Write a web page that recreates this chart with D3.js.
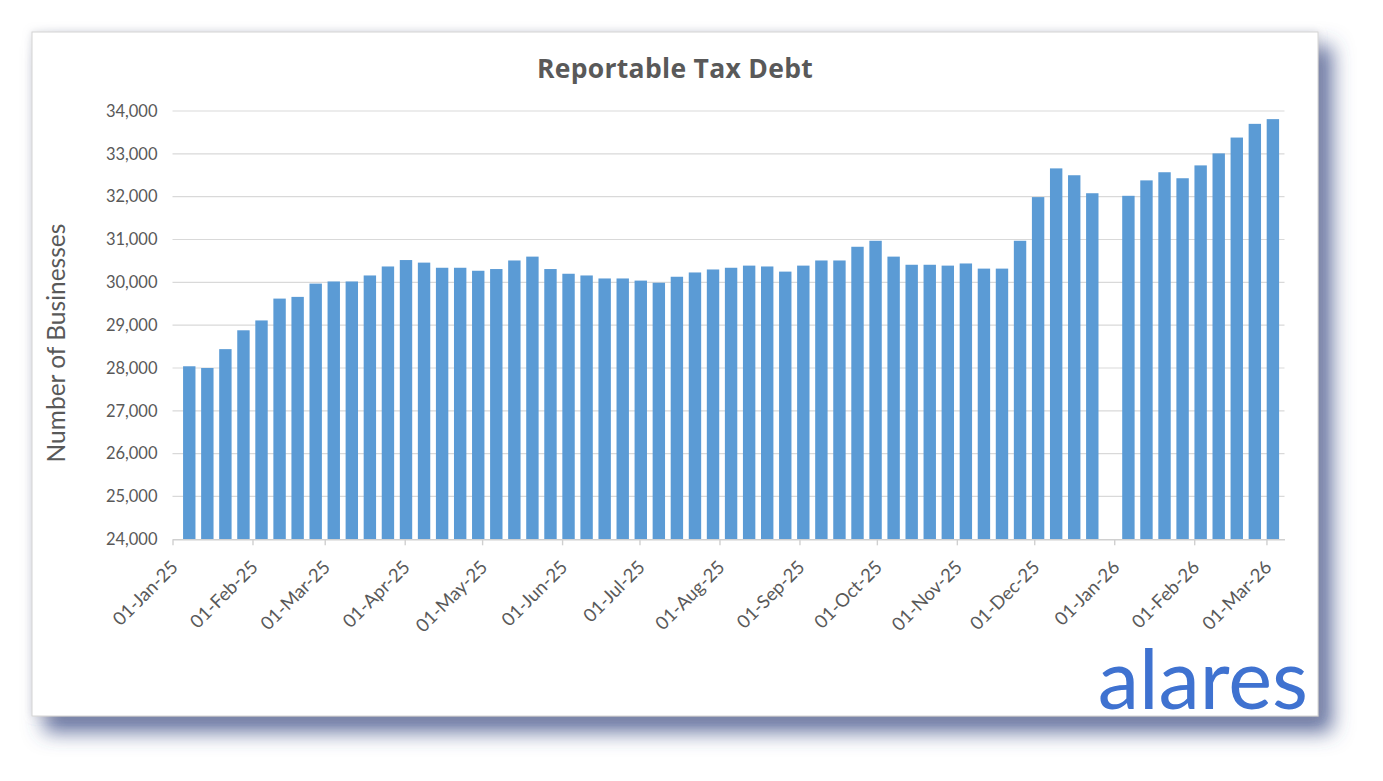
<!doctype html>
<html>
<head>
<meta charset="utf-8">
<title>Reportable Tax Debt</title>
<script src="https://cdn.jsdelivr.net/npm/d3@7"></script>
<style>
  body{margin:0;padding:0;background:#fff;}
  svg{display:block;}
</style>
</head>
<body>
<script>
// weekly snapshot dates (Tuesdays)
var weeks = [
  "2025-01-07","2025-01-14","2025-01-21","2025-01-28",
  "2025-02-04","2025-02-11","2025-02-18","2025-02-25",
  "2025-03-04","2025-03-11","2025-03-18","2025-03-25",
  "2025-04-01","2025-04-08","2025-04-15","2025-04-22","2025-04-29",
  "2025-05-06","2025-05-13","2025-05-20","2025-05-27",
  "2025-06-03","2025-06-10","2025-06-17","2025-06-24",
  "2025-07-01","2025-07-08","2025-07-15","2025-07-22","2025-07-29",
  "2025-08-05","2025-08-12","2025-08-19","2025-08-26",
  "2025-09-02","2025-09-09","2025-09-16","2025-09-23","2025-09-30",
  "2025-10-07","2025-10-14","2025-10-21","2025-10-28",
  "2025-11-04","2025-11-11","2025-11-18","2025-11-25",
  "2025-12-02","2025-12-09","2025-12-16","2025-12-23","2025-12-30",
  "2026-01-06","2026-01-13","2026-01-20","2026-01-27",
  "2026-02-03","2026-02-10","2026-02-17","2026-02-24",
  "2026-03-03"
];
// number of businesses, null = no reading that week
var businesses = [
  28040, 28000, 28440, 28880,
  29110, 29620, 29660, 29970,
  30020, 30020, 30160, 30370,
  30520, 30460, 30340, 30340, 30270,
  30310, 30510, 30600, 30310,
  30200, 30160, 30090, 30090,
  30040, 29990, 30130, 30230, 30300,
  30340, 30390, 30370, 30250,
  30390, 30510, 30510, 30830, 30970,
  30600, 30410, 30410, 30390,
  30440, 30320, 30320, 30970,
  31990, 32660, 32500, 32080, null,
  32020, 32380, 32570, 32430,
  32730, 33010, 33380, 33700,
  33810
];
var yTicks = [24000, 25000, 26000, 27000, 28000, 29000, 30000, 31000, 32000, 33000, 34000];
var xStart = "2025-01-01", xEnd = "2026-03-08";

var W = 1383, H = 781;
var plot = {left: 172.5, right: 1284.5, top: 111, bottom: 539.3};
var parse = d3.timeParse("%Y-%m-%d");

var svg = d3.select("body").append("svg").attr("width", W).attr("height", H)
  .attr("font-family", "Lato, 'Open Sans', sans-serif");

// panel with shadow
var defs = svg.append("defs");
var f = defs.append("filter").attr("id","shadow").attr("x","-10%").attr("y","-10%").attr("width","125%").attr("height","130%");
f.append("feDropShadow").attr("dx",0).attr("dy",0).attr("stdDeviation",4).attr("flood-color","#9aa0b0").attr("flood-opacity",0.35).attr("result","a");
f.append("feDropShadow").attr("in","a").attr("dx",13).attr("dy",15).attr("stdDeviation",10).attr("flood-color","#3f4f88").attr("flood-opacity",0.8);

svg.append("rect").attr("x",32).attr("y",32).attr("width",1286).attr("height",684)
  .attr("fill","#fff").attr("stroke","#d4d4d4").attr("filter","url(#shadow)");

var x = d3.scaleTime().domain([parse(xStart), parse(xEnd)]).range([plot.left, plot.right]);
var y = d3.scaleLinear().domain([yTicks[0], yTicks[yTicks.length-1]]).range([plot.bottom, plot.top]);
var dayW = x(parse("2025-01-02")) - x(parse("2025-01-01"));

// gridlines
svg.append("g").selectAll("line").data(yTicks.slice(1)).enter().append("line")
  .attr("x1", plot.left).attr("x2", plot.right)
  .attr("y1", function(d){ return y(d); }).attr("y2", function(d){ return y(d); })
  .attr("stroke","#d9d9d9").attr("stroke-width",1.2);

// y tick labels
svg.append("g").selectAll("text").data(yTicks).enter().append("text")
  .attr("x", plot.left - 15).attr("y", function(d){ return y(d); })
  .attr("dy","0.35em").attr("text-anchor","end")
  .attr("font-size",16.5).attr("fill","#595959")
  .text(d3.format(",")) ;

// bars
var data = weeks.map(function(w,i){ return {date: parse(w), v: businesses[i]}; }).filter(function(d){ return d.v !== null; });
var barW = 12.4;
svg.append("g").selectAll("rect").data(data).enter().append("rect")
  .attr("x", function(d){ return x(d.date) + dayW/2 - barW/2; })
  .attr("width", barW)
  .attr("y", function(d){ return y(d.v); })
  .attr("height", function(d){ return plot.bottom - y(d.v); })
  .attr("fill","#5b9bd5");

// x axis
var xAxis = d3.axisBottom(x)
  .ticks(d3.timeMonth.every(1))
  .tickFormat(d3.timeFormat("%d-%b-%y"))
  .tickSize(6).tickSizeOuter(0);
var gx = svg.append("g").attr("transform","translate(0," + plot.bottom + ")").call(xAxis)
  .attr("font-family","Lato, sans-serif").attr("font-size",18.5);
gx.select(".domain").attr("stroke","#d0d0d0").attr("stroke-width",1.4);
gx.selectAll(".tick line").attr("stroke","#d0d0d0").attr("stroke-width",1.4);
gx.selectAll(".tick text")
  .attr("fill","#595959")
  .attr("text-anchor","end").attr("dy",0).attr("y",0)
  .attr("transform","translate(6,29) rotate(-45)");

// title
svg.append("text").attr("x",675).attr("y",78).attr("text-anchor","middle")
  .attr("font-family","'Open Sans', sans-serif")
  .attr("font-size",26.5).attr("font-weight","bold").attr("letter-spacing",0.3).attr("fill","#595959")
  .text("Reportable Tax Debt");

// y axis title
svg.append("text").attr("transform","translate(65,343) rotate(-90)").attr("text-anchor","middle")
  .attr("font-size",24.5).attr("fill","#595959")
  .text("Number of Businesses");

// logo
svg.append("text").attr("x",1308).attr("y",709).attr("text-anchor","end")
  .attr("font-size",83).attr("font-weight",400).attr("fill","#3f72d0")
  .text("alares");
</script>
</body>
</html>
